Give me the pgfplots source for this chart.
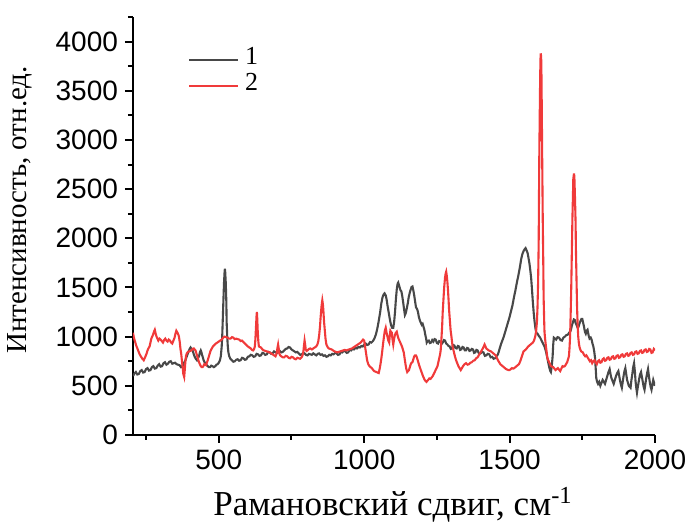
\documentclass[border=0pt]{standalone}
\usepackage{pgfplots}
\pgfplotsset{compat=1.18}
\usepackage{fontspec}
\setmainfont{Liberation Serif}
\newfontfamily\sansf{Liberation Sans}
\definecolor{cgray}{RGB}{72,72,72}
\definecolor{cred}{RGB}{240,58,58}
\begin{document}
\begin{tikzpicture}
\useasboundingbox (-66.5pt,-44.5pt) rectangle (276pt,217.5pt);
\begin{axis}[
  at={(0pt,0pt)}, anchor=origin,
  scale only axis, width=261pt, height=209pt,
  xmin=205, xmax=2000, ymin=0, ymax=4250,
  axis x line*=bottom, axis y line*=left,
  axis line style={line width=1pt},
  xtick={500,1000,1500,2000}, minor xtick={250,750,1250,1750},
  ytick={0,500,...,4000}, minor ytick={250,750,...,4250},
  tick align=outside,
  major tick length=4pt, minor tick length=2.5pt,
  every tick/.style={line width=1pt, black},
  tick label style={font=\sansf\fontsize{14}{14}\selectfont},
  /pgf/number format/assume math mode=true,
  /pgf/number format/set thousands separator={},
  legend style={draw=none, fill=none, at={(rel axis cs:0.105,0.93)}, anchor=north west,
    font=\fontsize{13}{13}\selectfont, row sep=0pt, column sep=3pt, inner sep=0pt,
    nodes={inner sep=0pt, text height=9pt, text depth=4pt}},
  legend cell align=left,
  legend image code/.code={\draw[#1, line width=1pt] (0pt,0pt) -- (24.5pt,0pt);},
]
\addplot[cgray, line width=1.05pt] coordinates {
(205,600)(210,625)(215,640)(220,615)(225,620)(230,650)(235,660)(240,635)(245,640)(250,670)(255,680)(260,655)(265,660)(270,690)(275,700)(280,675)(285,680)(290,705)(295,720)(300,695)(305,700)(310,730)(315,740)(320,715)(325,725)(330,745)(335,750)(340,725)(345,730)(350,735)(355,720)(360,715)(365,710)(370,690)(375,700)(380,730)(385,760)(390,800)(395,840)(399,870)(403,890)(407,875)(410,860)(414,820)(418,790)(422,770)(425,760)(428,780)(432,800)(435,840)(438,860)(440,845)(442,820)(445,790)(448,760)(452,735)(455,720)(459,710)(462,700)(466,690)(470,690)(474,705)(478,700)(483,690)(488,700)(492,715)(496,720)(500,735)(504,760)(507,800)(510,900)(512,1020)(514,1200)(516,1380)(518,1550)(520,1660)(521,1690)(522,1660)(524,1550)(526,1350)(527,1150)(529,1000)(531,900)(533,840)(536,800)(540,775)(545,760)(550,745)(555,750)(560,765)(565,770)(570,755)(575,760)(580,785)(585,780)(590,765)(595,770)(600,795)(605,800)(610,815)(615,810)(620,795)(625,800)(630,825)(635,820)(640,805)(645,810)(650,835)(655,830)(660,815)(665,820)(670,845)(675,840)(680,825)(685,830)(690,850)(695,840)(700,835)(705,850)(710,855)(715,840)(720,845)(725,860)(730,875)(735,880)(740,895)(745,890)(750,870)(755,860)(760,850)(765,840)(770,845)(775,830)(780,815)(785,820)(790,835)(795,830)(800,815)(805,810)(810,825)(815,820)(820,815)(825,830)(830,820)(835,810)(840,825)(845,830)(850,815)(855,820)(860,805)(865,810)(870,795)(875,800)(880,815)(885,810)(890,825)(895,820)(900,835)(905,830)(910,815)(915,820)(920,845)(925,840)(930,855)(935,850)(940,835)(945,840)(950,865)(955,860)(960,875)(965,870)(970,885)(975,880)(980,895)(985,890)(990,905)(995,900)(1000,920)(1005,930)(1010,915)(1015,920)(1020,945)(1025,940)(1030,955)(1035,980)(1040,1020)(1045,1080)(1050,1160)(1055,1250)(1059,1340)(1063,1400)(1067,1430)(1070,1440)(1074,1420)(1077,1380)(1080,1320)(1084,1250)(1088,1180)(1092,1120)(1096,1090)(1100,1090)(1103,1150)(1106,1250)(1109,1380)(1112,1480)(1115,1540)(1117,1550)(1120,1520)(1122,1500)(1125,1470)(1128,1460)(1131,1410)(1134,1350)(1137,1280)(1140,1220)(1143,1240)(1146,1280)(1150,1340)(1153,1400)(1157,1450)(1160,1480)(1163,1505)(1166,1510)(1169,1470)(1172,1420)(1175,1360)(1178,1300)(1182,1280)(1185,1250)(1188,1200)(1192,1160)(1195,1140)(1198,1120)(1201,1130)(1204,1100)(1207,1070)(1210,1020)(1213,980)(1215,940)(1218,955)(1222,960)(1226,935)(1230,940)(1234,965)(1238,950)(1242,975)(1246,970)(1250,935)(1254,930)(1258,955)(1262,950)(1266,925)(1270,940)(1274,965)(1278,960)(1282,930)(1286,920)(1290,905)(1294,900)(1298,875)(1302,880)(1306,915)(1310,910)(1314,885)(1318,880)(1322,905)(1326,900)(1330,865)(1334,870)(1338,895)(1342,890)(1346,860)(1350,860)(1354,885)(1358,880)(1362,855)(1366,860)(1370,875)(1374,870)(1378,835)(1382,840)(1386,865)(1390,860)(1395,825)(1400,830)(1405,845)(1410,840)(1415,805)(1420,810)(1425,825)(1430,820)(1435,790)(1440,795)(1445,775)(1450,780)(1455,800)(1460,820)(1465,870)(1470,920)(1475,960)(1480,1000)(1485,1050)(1490,1100)(1495,1150)(1500,1200)(1505,1260)(1510,1320)(1515,1400)(1520,1470)(1525,1550)(1530,1620)(1535,1700)(1540,1790)(1544,1840)(1548,1870)(1552,1890)(1555,1900)(1558,1880)(1562,1850)(1565,1800)(1568,1750)(1571,1680)(1574,1600)(1577,1480)(1580,1350)(1583,1240)(1586,1150)(1589,1080)(1592,1040)(1596,1030)(1600,1010)(1605,990)(1610,960)(1615,930)(1620,900)(1625,850)(1630,780)(1634,720)(1637,680)(1640,650)(1642,640)(1645,700)(1648,800)(1650,920)(1652,990)(1656,980)(1660,970)(1665,995)(1670,990)(1675,965)(1680,960)(1685,990)(1690,1000)(1695,1015)(1700,1020)(1705,1040)(1710,1060)(1714,1110)(1718,1150)(1721,1175)(1724,1170)(1727,1140)(1730,1120)(1734,1090)(1737,1100)(1741,1140)(1744,1160)(1747,1180)(1750,1180)(1753,1140)(1756,1100)(1759,1050)(1762,1030)(1765,1060)(1768,1070)(1772,1010)(1775,980)(1779,990)(1782,970)(1785,930)(1788,900)(1791,850)(1794,780)(1796,680)(1798,580)(1801,540)(1804,520)(1808,540)(1812,500)(1816,530)(1820,560)(1824,540)(1828,520)(1832,560)(1836,600)(1840,640)(1844,670)(1847,620)(1850,580)(1854,550)(1858,520)(1862,560)(1866,600)(1870,630)(1874,650)(1877,600)(1880,550)(1883,510)(1886,480)(1889,540)(1892,600)(1895,650)(1898,680)(1901,620)(1904,560)(1907,530)(1910,500)(1913,490)(1916,480)(1919,560)(1922,620)(1925,690)(1928,730)(1931,640)(1933,550)(1936,470)(1938,430)(1941,490)(1945,560)(1948,610)(1952,640)(1955,590)(1958,540)(1961,490)(1964,460)(1967,520)(1970,580)(1973,630)(1976,670)(1979,600)(1982,540)(1985,490)(1988,460)(1991,510)(1994,560)(1997,530)(2000,500)
};
\addlegendentry{1}
\addplot[cred, line width=1.05pt] coordinates {
(205,1040)(208,990)(212,950)(216,910)(220,880)(224,850)(228,820)(232,800)(236,780)(239,770)(242,760)(245,780)(248,800)(252,830)(255,860)(258,880)(262,900)(265,940)(268,980)(271,1000)(274,1020)(277,1050)(280,1070)(283,1030)(286,1000)(289,980)(292,960)(296,980)(300,970)(304,955)(308,940)(312,965)(316,980)(320,960)(324,950)(328,970)(332,960)(336,940)(340,930)(344,960)(348,990)(351,1030)(354,1060)(356,1050)(358,1040)(361,1020)(363,1000)(366,940)(368,880)(371,820)(373,760)(376,680)(378,620)(380,600)(381,590)(383,660)(385,740)(387,800)(390,830)(394,845)(398,850)(402,855)(406,860)(410,875)(414,880)(417,870)(420,860)(423,830)(426,800)(429,770)(432,740)(435,720)(438,700)(441,690)(444,690)(447,700)(450,720)(453,715)(456,710)(459,735)(462,760)(465,790)(468,820)(471,850)(474,870)(477,885)(480,900)(485,915)(490,930)(495,940)(500,950)(505,960)(510,970)(515,990)(520,1000)(525,995)(530,990)(535,980)(540,980)(545,995)(550,990)(555,975)(560,980)(565,975)(570,970)(575,955)(580,960)(585,945)(590,930)(595,915)(600,900)(605,890)(610,880)(614,865)(618,860)(621,870)(624,900)(626,980)(628,1100)(630,1220)(631,1250)(632,1200)(634,1050)(636,950)(638,900)(641,895)(645,890)(650,870)(655,860)(660,855)(665,850)(670,845)(675,840)(680,830)(685,820)(690,810)(695,800)(698,820)(700,850)(702,890)(704,920)(706,880)(708,830)(711,810)(715,800)(720,790)(725,790)(730,805)(735,800)(740,785)(745,780)(750,795)(755,790)(760,775)(765,770)(770,785)(775,780)(780,775)(785,790)(788,810)(791,850)(793,910)(795,960)(797,920)(799,870)(802,855)(805,860)(810,875)(815,880)(820,870)(825,880)(830,890)(835,900)(839,920)(842,950)(845,1010)(848,1100)(850,1190)(853,1300)(855,1350)(856,1370)(858,1330)(860,1250)(862,1150)(865,1050)(867,980)(870,920)(874,895)(878,880)(883,875)(888,870)(893,860)(898,850)(903,845)(908,840)(913,845)(918,850)(923,855)(928,860)(933,865)(938,860)(943,865)(948,870)(953,875)(958,880)(963,890)(968,900)(973,910)(978,920)(983,930)(988,940)(992,955)(996,970)(998,965)(1000,960)(1002,920)(1004,880)(1007,820)(1010,760)(1014,720)(1018,700)(1022,690)(1026,680)(1030,665)(1034,650)(1038,645)(1042,640)(1046,635)(1050,630)(1053,670)(1056,720)(1059,780)(1062,850)(1065,930)(1068,1000)(1071,1060)(1074,1090)(1077,1040)(1080,1000)(1083,960)(1086,940)(1088,1010)(1090,1060)(1092,1050)(1095,1040)(1097,980)(1100,920)(1103,980)(1106,1020)(1109,1040)(1112,1050)(1115,1010)(1118,980)(1121,960)(1124,940)(1127,920)(1130,900)(1133,870)(1136,840)(1139,780)(1142,720)(1145,670)(1148,640)(1151,650)(1154,660)(1157,690)(1160,720)(1163,735)(1166,740)(1169,770)(1172,800)(1175,810)(1178,810)(1181,790)(1184,760)(1187,730)(1190,700)(1193,675)(1196,650)(1199,625)(1202,600)(1205,580)(1208,560)(1211,550)(1214,540)(1217,550)(1220,560)(1224,575)(1228,570)(1232,585)(1236,600)(1240,625)(1244,650)(1248,675)(1252,700)(1255,740)(1258,780)(1261,820)(1263,860)(1265,950)(1268,1100)(1270,1250)(1273,1400)(1275,1500)(1278,1600)(1280,1640)(1282,1660)(1284,1620)(1286,1560)(1288,1480)(1290,1380)(1292,1270)(1295,1150)(1297,1070)(1300,1000)(1304,900)(1308,850)(1312,800)(1316,760)(1320,730)(1324,700)(1328,680)(1332,660)(1336,680)(1340,700)(1345,720)(1350,730)(1355,715)(1360,720)(1365,735)(1370,740)(1375,755)(1380,760)(1385,780)(1390,790)(1395,815)(1400,840)(1404,860)(1408,880)(1411,900)(1414,920)(1417,900)(1420,880)(1424,870)(1428,860)(1432,855)(1436,850)(1440,840)(1444,830)(1448,820)(1452,810)(1456,785)(1460,760)(1464,740)(1468,720)(1472,710)(1476,700)(1480,690)(1484,680)(1488,670)(1492,665)(1496,660)(1500,660)(1504,670)(1508,680)(1512,675)(1516,680)(1520,690)(1524,700)(1528,710)(1532,720)(1536,745)(1540,780)(1544,815)(1548,850)(1552,860)(1556,870)(1560,885)(1564,900)(1568,910)(1572,920)(1576,930)(1580,940)(1584,960)(1588,1000)(1591,1050)(1594,1150)(1596,1300)(1598,1550)(1600,1950)(1602,2800)(1604,3350)(1605,3600)(1606,3800)(1607,3880)(1608,3860)(1609,3800)(1610,3550)(1611,3200)(1612,2850)(1614,2200)(1616,1700)(1617,1400)(1619,1150)(1620,1050)(1622,980)(1625,900)(1628,830)(1630,780)(1633,760)(1636,740)(1639,720)(1642,700)(1646,695)(1650,690)(1654,675)(1658,660)(1662,670)(1666,680)(1670,665)(1674,650)(1678,675)(1682,700)(1686,695)(1690,700)(1694,720)(1698,740)(1701,770)(1704,800)(1706,880)(1708,1000)(1710,1230)(1712,1500)(1714,1850)(1716,2200)(1718,2450)(1719,2600)(1721,2650)(1722,2650)(1723,2600)(1725,2400)(1727,2150)(1728,1900)(1730,1600)(1732,1300)(1734,1120)(1736,1000)(1738,940)(1740,900)(1743,870)(1746,850)(1749,845)(1752,840)(1756,815)(1760,800)(1764,810)(1768,790)(1772,770)(1776,750)(1780,760)(1784,730)(1788,750)(1792,760)(1796,735)(1800,720)(1804,750)(1808,760)(1812,735)(1816,740)(1820,770)(1824,780)(1828,755)(1832,760)(1836,785)(1840,790)(1844,765)(1848,770)(1852,795)(1856,800)(1860,775)(1864,780)(1868,805)(1872,810)(1876,785)(1880,790)(1884,815)(1888,820)(1892,795)(1896,800)(1900,825)(1904,830)(1908,805)(1912,810)(1916,835)(1920,840)(1924,815)(1928,820)(1932,845)(1936,850)(1940,825)(1944,830)(1948,855)(1952,860)(1956,835)(1960,840)(1964,865)(1968,870)(1972,845)(1976,850)(1980,875)(1984,870)(1988,835)(1992,840)(1996,875)(2000,860)
};
\addlegendentry{2}
\end{axis}
\node[rotate=90, font=\fontsize{14.5}{14.5}\selectfont] at (-56.5pt,112.5pt) {Интенсивность, отн.ед.};
\node[anchor=base, font=\fontsize{17.5}{17.5}\selectfont] at (130pt,-40.5pt) {Рамановский сдвиг, см\textsuperscript{-1}};
\end{tikzpicture}
\end{document}
